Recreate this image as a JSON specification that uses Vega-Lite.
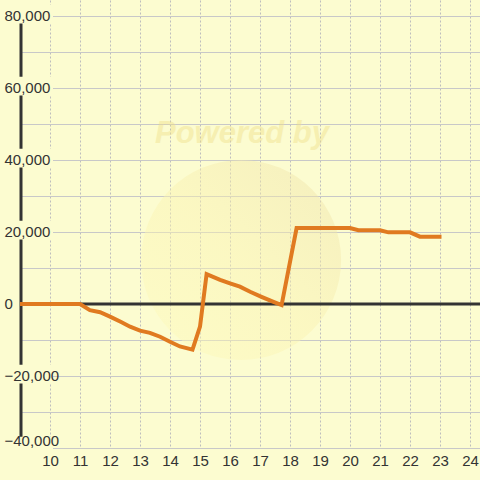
{
  "$schema": "https://vega.github.io/schema/vega-lite/v6.json",
  "autosize": "none",
  "width": 460,
  "height": 448,
  "padding": {"left": 20, "top": 0, "right": 0, "bottom": 32},
  "background": "#fcfcd0",
  "config": {
    "view": {"stroke": null},
    "axis": {"labelFont": "Liberation Sans", "labelFontSize": 15, "labelColor": "#333333"}
  },
  "datasets": {
    "series": [
      {"x": 9, "y": 0}, {"x": 11, "y": 0}, {"x": 11.33, "y": -1700}, {"x": 11.67, "y": -2300},
      {"x": 12, "y": -3500}, {"x": 12.37, "y": -5000}, {"x": 12.67, "y": -6300}, {"x": 13, "y": -7400},
      {"x": 13.33, "y": -8000}, {"x": 13.67, "y": -9100}, {"x": 14, "y": -10500}, {"x": 14.33, "y": -11800},
      {"x": 14.75, "y": -12700}, {"x": 15, "y": -6300}, {"x": 15.22, "y": 8300}, {"x": 15.67, "y": 6700},
      {"x": 16, "y": 5700}, {"x": 16.33, "y": 4800}, {"x": 16.67, "y": 3400}, {"x": 17.05, "y": 2000},
      {"x": 17.45, "y": 600}, {"x": 17.72, "y": -300}, {"x": 18.22, "y": 21100}, {"x": 20, "y": 21100},
      {"x": 20.28, "y": 20500}, {"x": 21, "y": 20500}, {"x": 21.28, "y": 19900}, {"x": 22, "y": 19900},
      {"x": 22.33, "y": 18700}, {"x": 23.05, "y": 18700}
    ],
    "watermark": [{"x": 16.37, "y": 12222, "label": "Powered by", "ty": 47222, "tx": 16.4}],
    "axisline": [{"x": 9, "y": -40000, "y2": 80000, "zero": 0}],
    "labelticks": [{"v": -40000}, {"v": -20000}, {"v": 20000}, {"v": 40000}, {"v": 60000}, {"v": 80000}]
  },
  "layer": [
    {
      "data": {"name": "watermark"},
      "mark": {
        "type": "point", "filled": true, "shape": "circle", "size": 40000, "opacity": 0.45,
        "color": {"gradient": "linear", "x1": 0, "y1": 1, "x2": 1, "y2": 0,
          "stops": [{"offset": 0, "color": "#fefbbc"}, {"offset": 0.5, "color": "#faf2b0"}, {"offset": 1, "color": "#ecdfa8"}]}
      },
      "encoding": {
        "x": {"field": "x", "type": "quantitative", "scale": {"domain": [9, 24.3333], "nice": false, "zero": false}, "axis": null},
        "y": {"field": "y", "type": "quantitative", "scale": {"domain": [-40000, 84444.4], "nice": false, "zero": false}, "axis": null}
      }
    },
    {
      "data": {"name": "watermark"},
      "mark": {"type": "text", "font": "Liberation Sans", "fontWeight": "bold", "fontStyle": "italic", "fontSize": 31, "color": "#efe08c", "opacity": 0.45, "align": "center", "baseline": "middle"},
      "encoding": {
        "x": {"field": "tx", "type": "quantitative", "scale": {"domain": [9, 24.3333], "nice": false, "zero": false}, "axis": null},
        "y": {"field": "ty", "type": "quantitative", "scale": {"domain": [-40000, 84444.4], "nice": false, "zero": false}, "axis": null},
        "text": {"field": "label"}
      }
    },
    {
      "data": {"name": "axisline"},
      "mark": {"type": "rule", "color": "#333333", "strokeWidth": 3, "xOffset": 1},
      "encoding": {
        "x": {"field": "x", "type": "quantitative", "scale": {"domain": [9, 24.3333], "nice": false, "zero": false},
          "axis": {"orient": "bottom", "title": null, "grid": true, "gridColor": "#bdbdbd", "gridDash": [2, 2], "gridWidth": 1,
            "values": [10, 11, 12, 13, 14, 15, 16, 17, 18, 19, 20, 21, 22, 23, 24],
            "domain": false, "ticks": false, "tickSize": 0, "labelPadding": 5, "labelFlush": false, "labelOverlap": false, "zindex": 0}},
        "y": {"field": "y", "type": "quantitative", "scale": {"domain": [-40000, 84444.4], "nice": false, "zero": false},
          "axis": {"orient": "left", "title": null, "grid": true, "gridColor": "#c8c8c8", "gridWidth": 1,
            "values": [-40000, -30000, -20000, -10000, 0, 10000, 20000, 30000, 40000, 50000, 60000, 70000, 80000],
            "labels": false, "ticks": false, "domain": false, "zindex": 0}},
        "y2": {"field": "y2"}
      }
    },
    {
      "data": {"name": "labelticks"},
      "mark": {"type": "point", "filled": true, "shape": "M-1,-0.45H1V0.3H-1Z", "size": 2500, "color": "#fcfcd0", "opacity": 1, "xOffset": 8},
      "encoding": {
        "x": {"datum": 9, "type": "quantitative", "scale": {"domain": [9, 24.3333], "nice": false, "zero": false}, "axis": null},
        "y": {"field": "v", "type": "quantitative", "scale": {"domain": [-40000, 84444.4], "nice": false, "zero": false},
          "axis": {"orient": "left", "title": null, "grid": false, "domain": false, "ticks": false, "tickSize": 0,
            "values": [-40000, -20000, 0, 20000, 40000, 60000, 80000], "format": ",d",
            "labelAlign": "left", "labelPadding": 16, "labelFlush": false, "labelOverlap": false,
            "labelBaseline": {"condition": {"test": "datum.value === -40000", "value": "bottom"}, "value": "middle"},
            "zindex": 1}}
      }
    },
    {
      "data": {"name": "axisline"},
      "mark": {"type": "rule", "color": "#333333", "strokeWidth": 3},
      "encoding": {
        "y": {"field": "zero", "type": "quantitative", "scale": {"domain": [-40000, 84444.4], "nice": false, "zero": false}, "axis": null}
      }
    },
    {
      "data": {"name": "series"},
      "mark": {"type": "line", "color": "#e07a20", "strokeWidth": 4},
      "encoding": {
        "x": {"field": "x", "type": "quantitative", "scale": {"domain": [9, 24.3333], "nice": false, "zero": false}, "axis": null},
        "y": {"field": "y", "type": "quantitative", "scale": {"domain": [-40000, 84444.4], "nice": false, "zero": false}, "axis": null}
      }
    }
  ],
  "resolve": {"axis": {"x": "independent", "y": "independent"}}
}
